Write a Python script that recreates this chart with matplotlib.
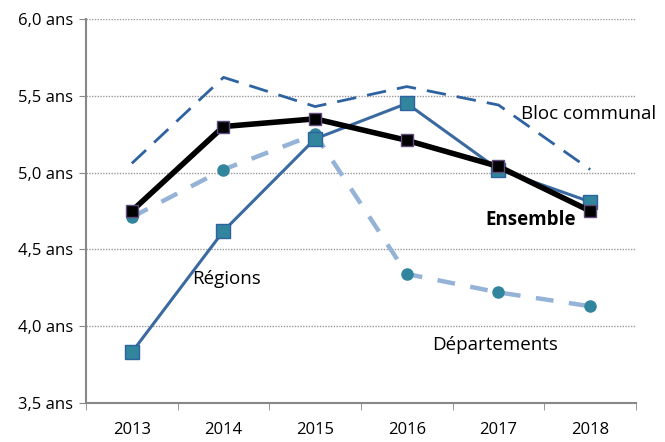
import matplotlib
matplotlib.use("Agg")
import matplotlib.pyplot as plt
import numpy as np

plt.rcParams["font.family"] = ["Open Sans", "DejaVu Sans"]

annees = ["2013", "2014", "2015", "2016", "2017", "2018"]
ensemble = [4.75, 5.30, 5.35, 5.21, 5.04, 4.75]
regions = [3.83, 4.62, 5.22, 5.45, 5.02, 4.81]
departements = [4.71, 5.02, 5.25, 4.34, 4.22, 4.13]
bloc_communal = [5.06, 5.62, 5.43, 5.56, 5.44, 5.02]
y_ticks = [3.5, 4.0, 4.5, 5.0, 5.5, 6.0]

x = np.arange(len(annees))

fig = plt.figure(figsize=(6.65, 4.42), dpi=100)
ax = fig.add_axes([86 / 665, 1 - 403 / 442, 550 / 665, 384 / 442])

ax.plot(x, bloc_communal, color="#2E62A0", lw=2, dashes=(7, 4), zorder=3)
ax.plot(x, departements, color="#95B3D7", lw=3.2, dashes=(4, 3.5), zorder=3,
        marker="o", ms=8, mfc="#31859C", mec="#31859C")
ax.plot(x, regions, color="#3A6AA0", lw=2.2, zorder=4,
        marker="s", ms=10, mfc="#31859C", mec="#2E62A0", mew=1)
ax.plot(x, ensemble, color="black", lw=4, zorder=5,
        marker="s", ms=8, mfc="black", mec="#604A7B", mew=1)

ax.set_xlim(-0.5, len(annees) - 0.5)
ax.set_ylim(3.5, 6.0)
ax.set_yticks(y_ticks)
ax.set_yticklabels([f"{v:.1f} ans".replace(".", ",") for v in y_ticks])
ax.set_xticks(x)
ax.set_xticklabels(annees)
ax.set_xticks(np.arange(-0.5, len(annees)), minor=True)
ax.tick_params(axis="x", which="major", length=0, pad=14, labelsize=12)
ax.tick_params(axis="x", which="minor", length=5, color="#888888")
ax.tick_params(axis="y", length=5, color="#888888", labelsize=12, pad=4)

ax.grid(axis="y", ls=(0, (1, 1)), color="#999999", lw=1)
for s in ["top", "right"]:
    ax.spines[s].set_visible(False)
for s in ["left", "bottom"]:
    ax.spines[s].set_color("#888888")
    ax.spines[s].set_linewidth(1.5)

ax.text(4.98, 5.38, "Bloc communal", fontsize=13.5, ha="center", va="center")
ax.text(4.35, 4.69, "Ensemble", fontsize=13.5, fontweight="bold", ha="center", va="center")
ax.text(1.03, 4.31, "Régions", fontsize=13.5, ha="center", va="center")
ax.text(3.96, 3.88, "Départements", fontsize=13.5, ha="center", va="center")

fig.savefig("out.png", dpi=100)
